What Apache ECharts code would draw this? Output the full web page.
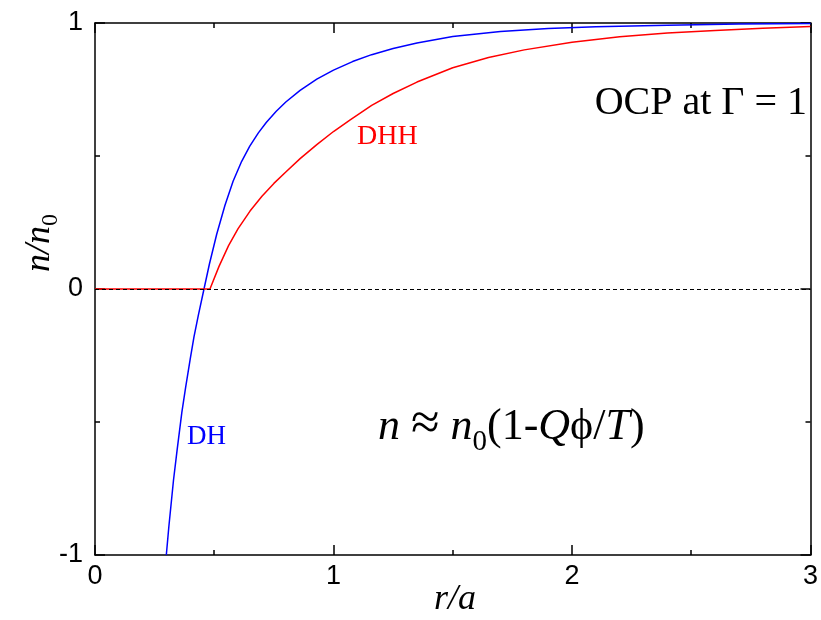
<!DOCTYPE html>
<html>
<head>
<meta charset="utf-8">
<script src="https://cdn.jsdelivr.net/npm/echarts@6/dist/echarts.min.js"></script>
<style>
  html, body { margin: 0; padding: 0; background: #fff; }
  #chart { width: 821px; height: 620px; }
</style>
</head>
<body>
<div id="chart"></div>
<script>
// Debye-Hückel curve (blue)
var dhR = [0.299, 0.31, 0.329, 0.345, 0.364, 0.38, 0.399, 0.415, 0.433, 0.457, 0.48, 0.51, 0.545,
    0.579, 0.615, 0.649, 0.685, 0.718, 0.76, 0.8, 0.86, 0.93, 1.0, 1.08, 1.16, 1.25, 1.35, 1.5,
    1.7, 1.9, 2.1, 2.4, 2.7, 3.0];
var dhN = [-1.0, -0.89, -0.72, -0.6, -0.465, -0.37, -0.265, -0.18, -0.1, 0.0, 0.095, 0.205, 0.315,
    0.405, 0.48, 0.537, 0.587, 0.626, 0.668, 0.703, 0.747, 0.789, 0.823, 0.855, 0.881, 0.904, 0.925, 0.949,
    0.968, 0.979, 0.986, 0.992, 0.996, 0.998];

// Debye-Hückel-hole curve (red)
var dhhR = [0, 0.482, 0.52, 0.56, 0.6, 0.65, 0.7, 0.75, 0.8, 0.86, 0.93, 1.0, 1.07, 1.16, 1.25,
    1.35, 1.5, 1.65, 1.8, 2.0, 2.2, 2.4, 2.6, 2.8, 3.0];
var dhhN = [0, 0, 0.085, 0.163, 0.227, 0.293, 0.349, 0.397, 0.44, 0.49, 0.543, 0.592, 0.636, 0.69, 0.735,
    0.778, 0.832, 0.87, 0.899, 0.928, 0.948, 0.962, 0.972, 0.98, 0.987];

var xTicks = [0, 1, 2, 3];
var yTicks = [-1, 0, 1];

var SERIF = '"Liberation Serif", "Times New Roman", serif';
var measureCtx = document.createElement('canvas').getContext('2d');

function fontStr(p) {
    return (p.italic ? 'italic ' : '') + p.size + 'px ' + SERIF;
}

// lay out a run of text pieces (for italics / subscripts) along a baseline
function textRun(parts, x, base, color, align) {
    var widths = parts.map(function (p) {
        measureCtx.font = fontStr(p);
        return measureCtx.measureText(p.t).width;
    });
    var total = widths.reduce(function (a, b) { return a + b; }, 0);
    var cx = align === 'right' ? x - total : (align === 'center' ? x - total / 2 : x);
    var out = [];
    parts.forEach(function (p, i) {
        out.push({
            type: 'text',
            x: cx,
            y: base + (p.dy || 0) - 0.3 * p.size,
            silent: true,
            style: {
                text: p.t,
                fontSize: p.size,
                fontFamily: SERIF,
                fontStyle: p.italic ? 'italic' : 'normal',
                fill: color,
                align: 'left',
                verticalAlign: 'middle'
            }
        });
        cx += widths[i];
    });
    return out;
}

function pairs(xs, ys) {
    return xs.map(function (x, i) { return [x, ys[i]]; });
}

var myChart;
function initChart() {
    var chartDom = document.getElementById('chart');
    myChart = echarts.init(chartDom);
    var option;

    var lineStyle = { color: '#000', width: 1.5 };
    var xAxisBase = {
        type: 'value',
        min: 0,
        max: 3,
        interval: 1,
        axisLine: { show: true, onZero: false, lineStyle: lineStyle },
        axisTick: { show: true, inside: true, length: 10, lineStyle: lineStyle },
        minorTick: { show: true, splitNumber: 2, length: 5, lineStyle: lineStyle },
        splitLine: { show: false }
    };
    var yAxisBase = {
        type: 'value',
        min: -1,
        max: 1,
        interval: 1,
        axisLine: { show: true, onZero: false, lineStyle: lineStyle },
        axisTick: { show: true, inside: true, length: 10, lineStyle: lineStyle },
        minorTick: { show: true, splitNumber: 2, length: 5, lineStyle: lineStyle },
        splitLine: { show: false }
    };

    var graphics = [];
    // y axis name n/n0, rotated
    var yName = textRun([
        { t: 'n/n', size: 36, italic: true },
        { t: '0', size: 24, dy: 8 }
    ], 0, 0, '#000', 'center');
    graphics.push({ type: 'group', x: 50, y: 243, rotation: Math.PI / 2, children: yName });
    // x axis name r/a
    graphics = graphics.concat(textRun([{ t: 'r/a', size: 36, italic: true }], 455, 610, '#000', 'center'));
    // annotations
    graphics = graphics.concat(textRun([{ t: 'OCP at \u0393 = 1', size: 40 }], 807, 115, '#000', 'right'));
    graphics = graphics.concat(textRun([{ t: 'DHH', size: 28 }], 357, 145, '#ff0000', 'left'));
    graphics = graphics.concat(textRun([{ t: 'DH', size: 27 }], 187, 445, '#0000ff', 'left'));
    graphics = graphics.concat(textRun([
        { t: 'n', size: 44, italic: true },
        { t: ' ', size: 44 },
        { t: '\u2248', size: 52 },
        { t: ' ', size: 44 },
        { t: 'n', size: 44, italic: true },
        { t: '0', size: 29, dy: 10 },
        { t: '(1-', size: 44 },
        { t: 'Q', size: 44, italic: true },
        { t: '\u03d5/', size: 44 },
        { t: 'T', size: 44, italic: true },
        { t: ')', size: 44 }
    ], 378, 441, '#000', 'left'));

    option = {
        animation: false,
        backgroundColor: '#fff',
        grid: { left: 95, right: 8, top: 23, bottom: 65, containLabel: false },
        xAxis: [
            Object.assign({}, xAxisBase, {
                position: 'bottom',
                axisLabel: {
                    show: true, color: '#000', fontSize: 27, margin: 8,
                    fontFamily: '"Liberation Sans", Arial, sans-serif',
                    formatter: function (v) { return xTicks.indexOf(v) >= 0 ? String(v) : ''; }
                }
            }),
            Object.assign({}, xAxisBase, { position: 'top', axisLabel: { show: false } })
        ],
        yAxis: [
            Object.assign({}, yAxisBase, {
                position: 'left',
                axisLabel: {
                    show: true, color: '#000', fontSize: 27, margin: 12,
                    fontFamily: '"Liberation Sans", Arial, sans-serif',
                    formatter: function (v) { return yTicks.indexOf(v) >= 0 ? String(v) : ''; }
                }
            }),
            Object.assign({}, yAxisBase, { position: 'right', axisLabel: { show: false } })
        ],
        series: [
            {
                name: 'DH',
                type: 'line',
                data: pairs(dhR, dhN),
                showSymbol: false,
                symbol: 'none',
                z: 2,
                lineStyle: { color: '#0000ff', width: 1.5 },
                markLine: {
                    silent: true,
                    symbol: 'none',
                    label: { show: false },
                    lineStyle: { color: '#000', width: 1, type: [4, 3] },
                    data: [{ yAxis: 0 }]
                }
            },
            {
                name: 'DHH',
                type: 'line',
                data: pairs(dhhR, dhhN),
                showSymbol: false,
                symbol: 'none',
                z: 3,
                lineStyle: { color: '#ff0000', width: 1.5 }
            }
        ],
        graphic: graphics
    };

    option && myChart.setOption(option);
}

document.addEventListener('DOMContentLoaded', function () {
    initChart();
});

window.addEventListener('resize', function () {
    myChart.resize();
});
</script>
</body>
</html>
